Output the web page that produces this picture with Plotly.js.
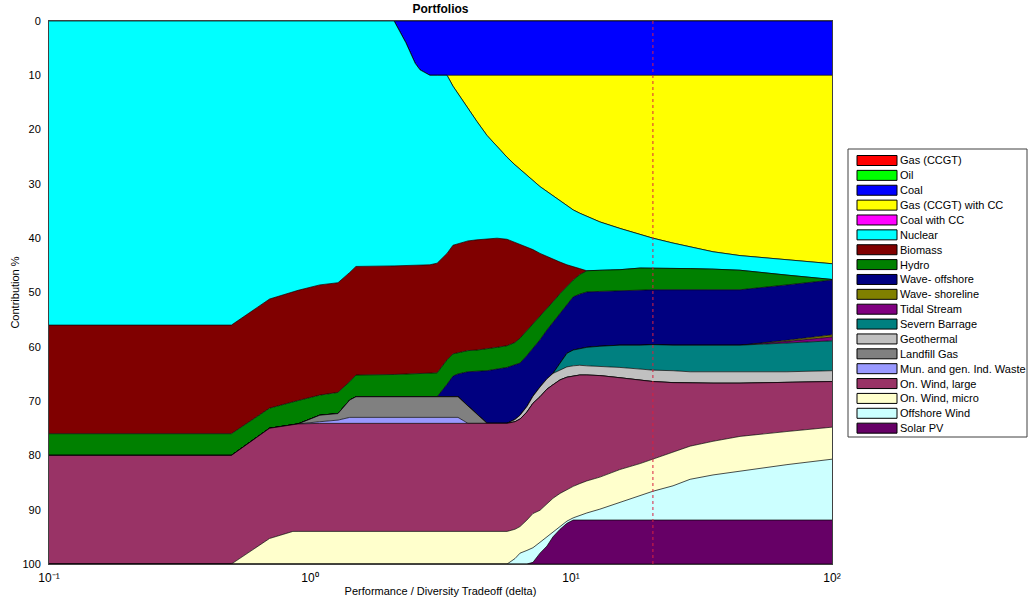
<!DOCTYPE html>
<html>
<head>
<meta charset="utf-8">
<script src="https://cdn.plot.ly/plotly-3.0.1.min.js"></script>
<style>
html,body{margin:0;padding:0;background:#fff;}
#chart{width:1028px;height:604px;}
</style>
</head>
<body>
<div id="chart"></div>
<script>
// ---- data ----
const delta = [0.1, 0.5, 0.7, 0.86, 0.9, 1.09, 1.28, 1.42, 1.5, 2.1, 2.33, 2.53, 2.64, 2.88, 3.07,
  3.35, 3.53, 3.69, 4.03, 4.36, 4.77, 5.21, 5.69, 6.1, 6.38, 6.78, 7.15, 7.61, 8.09, 8.53,
  9.08, 9.65, 10.2, 10.8, 11.5, 12.9, 15.4, 18.4, 20.6, 24.6, 28.6, 35, 44.4, 67.2, 100];

const gasCCGT = [0,0,0,0,0,0,0,0,0,0,0,0,0,0,0,0,0,0,0,0,0,0,0,0,0,0,0,0,0,0,0,0,0,0,0,0,0,0,0,0,0,0,0,0,0];
const oil     = [0,0,0,0,0,0,0,0,0,0,0,0,0,0,0,0,0,0,0,0,0,0,0,0,0,0,0,0,0,0,0,0,0,0,0,0,0,0,0,0,0,0,0,0,0];
const coal    = [0,0,0,0,0,0,0,0,0,0, 4.0,7.8,9.0,10,10,10,10,10,10,10,10,10,10,10,10,10,10,10,10,10,10,10,10,10,10,10,10,10,10,10,10,10,10,10,10];
const gasCC   = [0,0,0,0,0,0,0,0,0,0,0,0,0,0,0,0, 2.0,3.4,6.1,8.5,11.1,13.2,15.1,16.5,17.3,18.4,19.4,20.5,21.4,22.2,23.1,24.0,24.8,25.4,26.0,27.0,28.2,29.3,30.0,30.9,31.6,32.5,33.2,34.0,34.7];
const coalCC  = [0,0,0,0,0,0,0,0,0,0,0,0,0,0,0,0,0,0,0,0,0,0,0,0,0,0,0,0,0,0,0,0,0,0,0,0,0,0,0,0,0,0,0,0,0];
const nuclear = [56.0,56.0,51.2,49.8,49.6,48.6,48.2,46.3,45.2,45.1,41.0,37.2,36.0,34.9,34.6,32.8,29.3,27.6,24.4,21.8,19.0,16.8,15.1,14.3,13.8,13.2,12.7,12.3,12.0,11.7,11.3,10.9,10.4,10.2,10.0,8.9,7.6,6.2,5.5,4.6,4.0,3.2,2.7,2.8,2.9];
const biomass = [20.0,20.0,20.1,20.3,20.3,20.3,20.2,20.1,20.0,20.0,20.0,20.0,20.0,20.0,20.2,19.6,20.0,20.1,20.2,20.3,20.3,20.1,19.6,18.4,17.3,15.4,13.8,11.7,9.6,7.8,5.8,4.0,2.5,1.1,0,0,0,0,0,0,0,0,0,0,0];
const hydro   = [4.0,4.0,3.7,4.2,4.3,3.7,3.9,3.4,4.0,4.1,4.2,4.2,4.2,4.3,4.4,4.5,4.1,3.9,3.9,3.9,4.0,4.0,4.0,4.1,4.6,4.6,4.4,4.2,3.9,3.8,3.6,3.3,3.1,3.6,3.9,3.9,3.9,4.0,4.0,4.0,3.9,3.8,3.6,1.8,0.1];
const waveOff = [0,0,0,0,0,0,0,0,0,0,0,0,0,0,0, 2.3,3.8,4.2,6.3,7.9,9.7,10.0,10.3,10.1,9.6,9.4,8.8,8.7,9.0,9.4,9.2,9.0,9.8,10.0,10.2,10.1,10.0,10.2,10.1,10.2,10.2,10.3,10.2,10.2,10.1];
const waveShore = [0,0,0,0,0,0,0,0,0,0,0,0,0,0,0,0,0,0,0,0,0,0,0,0,0,0,0,0,0,0,0,0,0,0,0,0,0,0,0,0,0,0,0, 0.2,0.4];
const tidal   = [0,0,0,0,0,0,0,0,0,0,0,0,0,0,0,0,0,0,0,0,0,0,0,0,0,0,0,0,0,0,0,0,0,0,0,0,0,0,0,0,0,0,0, 0.3,0.7];
const severn  = [0,0,0,0,0,0,0,0,0,0,0,0,0,0,0,0,0,0,0,0,0,0,0,0,0,0,0,0,0,0, 1.3,2.5,2.9,3.1,3.4,3.7,4.1,4.4,4.7,4.7,4.9,4.8,4.9,5.3,5.5];
const geothermal = [0,0,0,0,0,0,0,0,0,0,0,0,0,0,0,0,0,0,0,0,0,0,0, 0.4,0.7,1.0,1.3,1.8,1.9,2.1,1.8,1.9,1.9,1.8,1.7,1.7,1.9,2.0,2.1,2.2,2.1,2.1,2.1,2.0,2.0];
const landfill = [0,0,0,0,0, 1.2,1.2,3.2,3.8,3.8,3.8,3.8,3.8,3.8,3.8,3.8,3.8,3.8, 3.2,1.7, 0,0,0,0,0,0,0,0,0,0,0,0,0,0,0,0,0,0,0,0,0,0,0,0,0];
const msw     = [0,0,0,0,0, 0.3,0.6,1.1,1.1,1.1,1.1,1.1,1.1,1.1,1.1,1.1,1.1,1.1, 0,0,0,0,0,0,0,0,0,0,0,0,0,0,0,0,0,0,0,0,0,0,0,0,0,0,0];
const windLarge = [20.0,20.0,20.3,19.7,19.8,19.9,19.9,19.9,19.9,19.9,19.9,19.9,19.9,19.9,19.9,19.9,19.9,19.9,19.9,19.9,19.9,19.9,19.9,19.8,19.8,19.9,20.3,20.9,21.1,20.9,20.9,20.7,20.3,20.0,19.5,18.7,16.9,15.4,14.3,12.8,11.6,10.7,9.8,9.0,8.4];
const windMicro = [0,0,4.7,6.0,6.0,6.0,6.0,6.0,6.0,6.0,6.0,6.0,6.0,6.0,6.0,6.0,6.0,6.0,6.0,6.0,6.0,6.0,6.0,5.4,4.9,5.6,6.3,5.9,6.1,6.2,6.0,5.8,5.8,5.8,5.9,5.9,6.0,5.8,5.9,6.2,6.1,6.2,6.4,6.1,5.9];
const offshore = [0,0,0,0,0,0,0,0,0,0,0,0,0,0,0,0,0,0,0,0,0,0,0, 1.0,2.0,2.5,2.7,2.0,1.7,0.9,0.6,0.4,0.4,0.9,1.3,2.0,3.3,4.6,5.3,6.3,7.5,8.3,9.0,10.2,11.2];
const solarPV = [0,0,0,0,0,0,0,0,0,0,0,0,0,0,0,0,0,0,0,0,0,0,0,0,0,0, 0.3,2.0,3.3,5.0,6.4,7.5,8.1,8.1,8.1,8.1,8.1,8.1,8.1,8.1,8.1,8.1,8.1,8.1,8.1];

const names = ['Gas (CCGT)','Oil','Coal','Gas (CCGT) with CC','Coal with CC','Nuclear','Biomass','Hydro',
  'Wave- offshore','Wave- shoreline','Tidal Stream','Severn Barrage','Geothermal','Landfill Gas',
  'Mun. and gen. Ind. Waste','On. Wind, large','On. Wind, micro','Offshore Wind','Solar PV'];
const series = [gasCCGT, oil, coal, gasCC, coalCC, nuclear, biomass, hydro, waveOff, waveShore, tidal,
  severn, geothermal, landfill, msw, windLarge, windMicro, offshore, solarPV];
const colors = ['#ff0000','#00ff00','#0000ff','#ffff00','#ff00ff','#00ffff','#800000','#008000',
  '#000080','#808000','#800080','#008080','#c0c0c0','#808080','#9999ff','#993366','#ffffcc','#ccffff','#660066'];

const markerDelta = 20.6;
const yTickVals = [0,10,20,30,40,50,60,70,80,90,100];
const xTickVals = [0.1, 1, 10, 100];
const xTickText = ['10\u207B\u00B9','10\u2070','10\u00B9','10\u00B2'];

// ---- drawing ----
const FONT = 'Liberation Sans, Arial, sans-serif';
const traces = series.map((vals, i) => ({
  type: 'scatter', mode: 'lines', x: delta, y: vals, name: names[i],
  stackgroup: 'portfolio', fillcolor: colors[i],
  line: {color: '#000000', width: 0.7}, hoverinfo: 'skip', showlegend: false
}));
traces.push({
  type: 'scatter', mode: 'lines', x: [markerDelta, markerDelta], y: [0, 100],
  line: {color: '#d82040', width: 1, dash: 'dot'}, hoverinfo: 'skip', showlegend: false
});

// plot area in pixels
const L = 49, R = 832, T = 21, B = 564;
const px = v => (v - L) / (R - L);
const py = v => (B - v) / (B - T);

const shapes = [{
  type: 'rect', xref: 'paper', yref: 'paper',
  x0: px(848), x1: px(1027), y0: py(149), y1: py(437),
  line: {color: '#404040', width: 1}, fillcolor: '#ffffff'
}];
const annotations = [];
names.forEach((n, i) => {
  const c = 160.5 + i * 14.87;
  shapes.push({
    type: 'rect', xref: 'paper', yref: 'paper',
    x0: px(857), x1: px(897), y0: py(c - 5), y1: py(c + 5),
    line: {color: '#000000', width: 1}, fillcolor: colors[i]
  });
  annotations.push({
    xref: 'paper', yref: 'paper', x: px(898.5), y: py(c), xanchor: 'left', yanchor: 'middle',
    text: n, showarrow: false, font: {family: FONT, size: 11, color: '#000'}
  });
});

const layout = {
  width: 1028, height: 604,
  margin: {l: L, r: 1028 - R, t: T, b: 604 - B, pad: 0},
  paper_bgcolor: '#ffffff', plot_bgcolor: '#ffffff',
  showlegend: false,
  font: {family: FONT, size: 11, color: '#000'},
  title: {text: '<b>Portfolios</b>', font: {family: FONT, size: 12, color: '#000'},
    x: 0.5, xref: 'paper', xanchor: 'center', y: 1 - 9 / 604, yref: 'container', yanchor: 'middle'},
  xaxis: {
    type: 'log', range: [-1, 2], autorange: false,
    tickvals: xTickVals, ticktext: xTickText, ticks: '', ticklabelstandoff: 3,
    showgrid: false, zeroline: false, showline: true, mirror: true,
    linecolor: '#404040', linewidth: 1, tickfont: {size: 12},
    title: {text: 'Performance / Diversity Tradeoff (delta)', font: {size: 11}, standoff: 2}
  },
  yaxis: {
    range: [100, 0], autorange: false, tickvals: yTickVals, ticks: '',
    showgrid: false, zeroline: false, showline: true, mirror: true,
    linecolor: '#404040', linewidth: 1, tickfont: {size: 11}, ticklabelstandoff: 5,
    title: {text: 'Contribution %', font: {size: 11}, standoff: 0}
  },
  shapes: shapes,
  annotations: annotations
};

Plotly.newPlot('chart', traces, layout, {displayModeBar: false, staticPlot: true});
</script>
</body>
</html>
